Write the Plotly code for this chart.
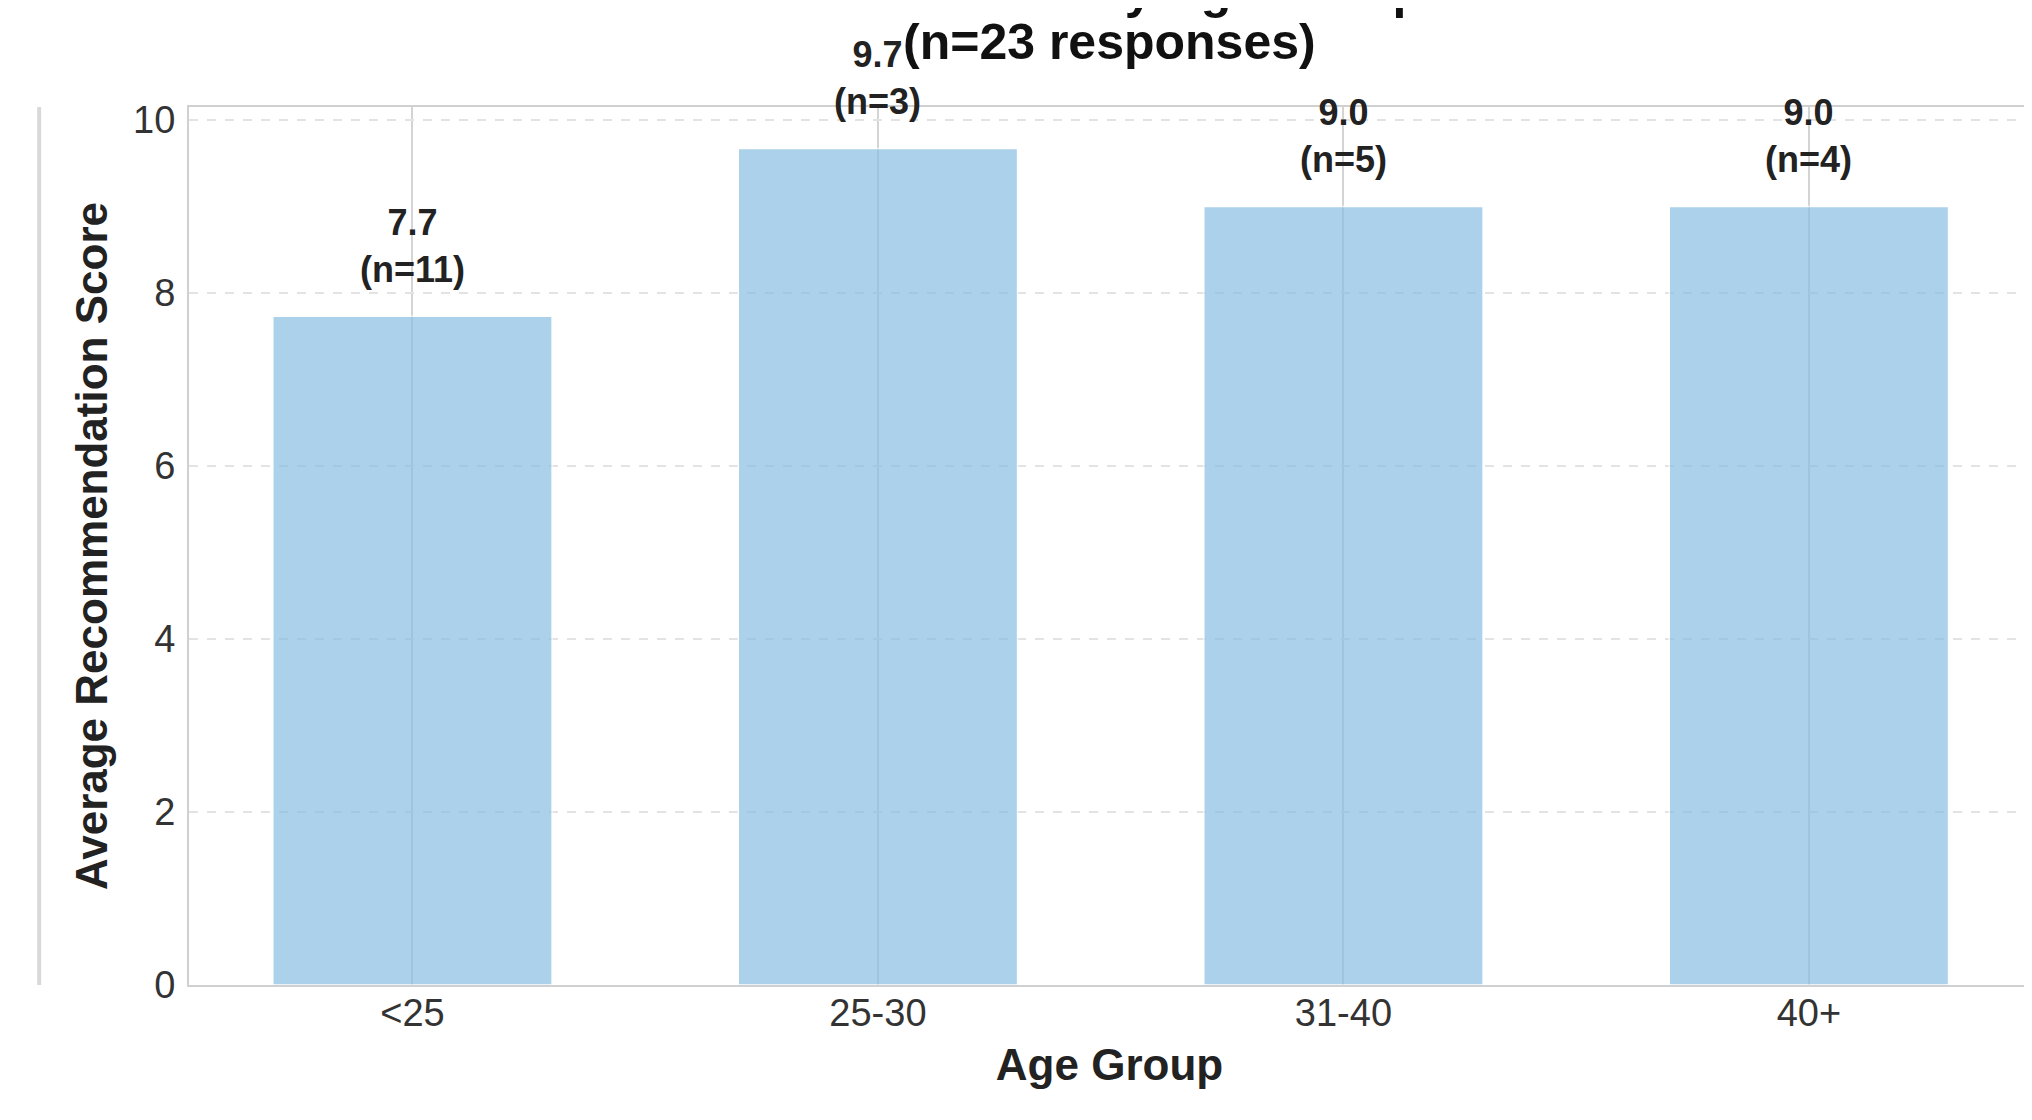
import plotly.graph_objects as go

# ---- data ----
age_groups = ["<25", "25-30", "31-40", "40+"]
avg_scores = [7.73, 9.67, 9.0, 9.0]
counts = [11, 3, 5, 4]
y_ticks = [0, 2, 4, 6, 8, 10]

title_line1 = "Satisfaction by Age Group"
title_line2 = "(n=23 responses)"
x_title = "Age Group"
y_title = "Average Recommendation Score"

# page body has an 8px margin in the browser; figure sized to fill the rest
W, H = 2024, 1112
ML, MR, MT, MB = 181, 0, 99, 135
PW, PH = W - ML - MR, H - MT - MB
FONT = "Liberation Sans, Arial, sans-serif"

fig = go.Figure()
fig.add_trace(go.Bar(
    x=age_groups,
    y=avg_scores,
    width=0.6,
    marker=dict(color="rgb(136,191,226)", line=dict(color="white", width=1.5)),
    opacity=0.7,
    hoverinfo="skip",
))

for g, v, n in zip(age_groups, avg_scores, counts):
    fig.add_annotation(
        x=g, y=v + 0.28, xref="x", yref="y",
        text=f"<b>{v:.1f}<br>(n={n})</b>",
        showarrow=False, yanchor="bottom", xanchor="center",
        font=dict(family=FONT, size=36, color="#222222"),
    )

# chart title (top line is cut off at the top of the page, as in the reference)
for txt, bottom_px in ((title_line1, 13), (title_line2, 64)):
    fig.add_annotation(
        x=0.5, y=1 + (MT - bottom_px) / PH, xref="paper", yref="paper",
        text=f"<b>{txt}</b>",
        showarrow=False, xanchor="center", yanchor="bottom",
        font=dict(family=FONT, size=50, color="#111111"),
    )

# faint frame line at far left (from neighbouring panel)
xl = (31 - ML) / PW
fig.add_shape(type="line", xref="paper", yref="paper",
              x0=xl, x1=xl, y0=0, y1=1, line=dict(color="#d9d9d9", width=4))

fig.update_layout(
    width=W, height=H,
    margin=dict(l=ML, r=MR, t=MT, b=MB, pad=0),
    paper_bgcolor="white", plot_bgcolor="white",
    showlegend=False,
    font=dict(family=FONT, color="#333333"),
)

fig.update_xaxes(
    type="category",
    range=[-0.48, -0.48 + PW / 466.0],
    showgrid=True, gridcolor="#d4d4d4", gridwidth=1.5,
    showline=True, linecolor="#d0d0d0", linewidth=2, mirror=True,
    ticks="", tickfont=dict(family=FONT, size=38, color="#333333"),
    ticklabelstandoff=-7,
    title=dict(text=f"<b>{x_title}</b>", standoff=17,
               font=dict(family=FONT, size=44, color="#222222")),
    zeroline=False,
)
fig.update_yaxes(
    range=[0, 10.15],
    tickvals=y_ticks,
    showgrid=True, gridcolor="#e3e3e3", gridwidth=1.5, griddash="dash",
    showline=True, linecolor="#d0d0d0", linewidth=2, mirror=True,
    ticks="", tickfont=dict(family=FONT, size=38, color="#333333"),
    ticklabelstandoff=4,
    title=dict(text=f"<b>{y_title}</b>", standoff=12,
               font=dict(family=FONT, size=44, color="#222222")),
    zeroline=False,
)

fig.write_html("out.html")
